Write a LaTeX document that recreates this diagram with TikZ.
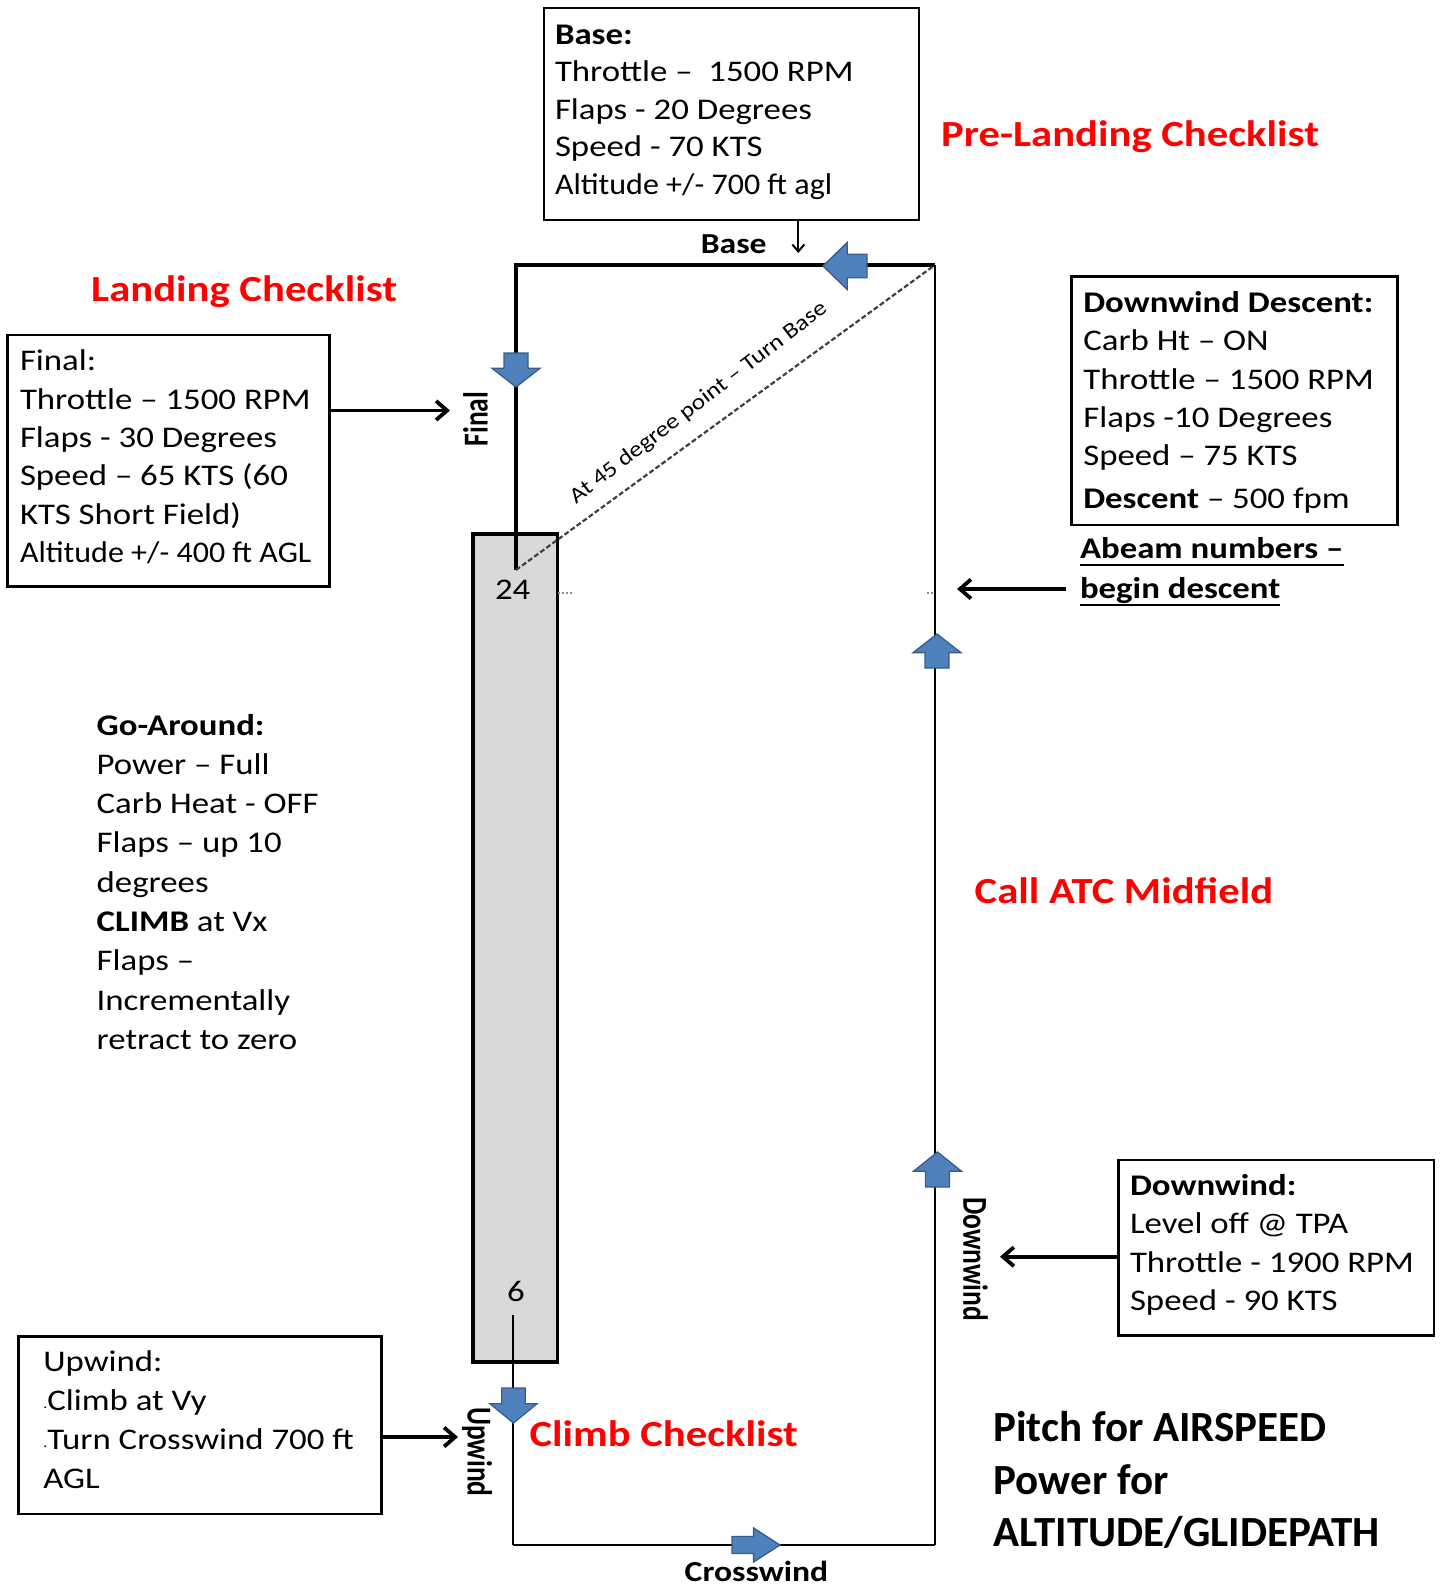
\documentclass[tikz,border=0pt]{standalone}
\usepackage{fontspec}
\setmainfont{Carlito}[FakeStretch=1.16]
\newfontfamily\plainfont{Carlito}
\usetikzlibrary{arrows.meta}
\definecolor{arrowblue}{HTML}{4F81BD}
\definecolor{arrowedge}{HTML}{385D8A}
\definecolor{runwaygray}{HTML}{D9D9D9}
\definecolor{titlered}{HTML}{FF0000}
\newcommand{\bodyfont}{\fontsize{30}{38.4}\selectfont}
\newsavebox{\ulbox}
\newcommand{\myul}[1]{\sbox{\ulbox}{#1}\rlap{\rule[-8pt]{\wd\ulbox}{2.5pt}}\usebox{\ulbox}}
\newcommand{\tinydot}{\raisebox{2pt}{\fontsize{14}{14}\selectfont.}}
\newcommand{\narrow}[1]{\scalebox{0.92}[1]{#1}}
\tikzset{
  boxst/.style={draw=black, line width=2.6pt, anchor=north west, inner sep=0pt, outer sep=0pt},
  txt/.style={inner sep=0pt, outer sep=0pt, anchor=north west, align=left, font=\bodyfont},
  titletxt/.style={inner sep=0pt, anchor=base west, text=titlered, font=\fontsize{36.8}{44}\selectfont\bfseries},
  lbl/.style={inner sep=0pt, anchor=base, font=\fontsize{29}{35}\selectfont\bfseries},
  rotlbl/.style={inner sep=0pt, anchor=base, font=\fontsize{27.5}{33}\selectfont\bfseries\plainfont},
  conn/.style={line width=3.8pt, -{Straight Barb[length=11pt, width=19pt]}},
  thinconn/.style={line width=2pt, -{Straight Barb[length=7pt, width=12pt]}},
  patthin/.style={line width=2.4pt},
  patthick/.style={line width=4.2pt, line join=miter},
  bluearr/.style={fill=arrowblue, draw=arrowedge, line width=1.3pt, line join=miter},
  pics/barrow/.style 2 args={code={
    \path[bluearr] ({-0.5*#1},{0.25*#2}) -- ({-0.05*#1},{0.25*#2}) -- ({-0.05*#1},{0.5*#2})
      -- ({0.5*#1},0) -- ({-0.05*#1},{-0.5*#2}) -- ({-0.05*#1},{-0.25*#2})
      -- ({-0.5*#1},{-0.25*#2}) -- cycle;
  }}
}
\begin{document}
\begin{tikzpicture}[x=1pt, y=-1pt]
\useasboundingbox (0,0) rectangle (1441,1590);
\fill[white] (0,0) rectangle (1441,1590);

% runway
\node[draw=black, line width=3.8pt, fill=runwaygray, anchor=north west, inner sep=0pt,
      minimum width=84.5pt, minimum height=828pt] (runway) at (471,532) {};
\node[anchor=base, inner sep=0pt, font=\bodyfont] (n24) at (512.7,599.3) {24};
\node[anchor=base, inner sep=0pt, font=\bodyfont] (n6) at (516,1301.7) {6};

% pattern corners
\coordinate (fe) at (516,570);
\coordinate (tl) at (516,265);
\coordinate (tr) at (935,265);
\coordinate (br) at (935,1545);
\coordinate (bl) at (513,1545);
\coordinate (ue) at (513,1315);

\draw[patthick] (fe) -- (tl) -- (tr);
\draw[patthin] (tr) -- (br);
\draw[patthin] (bl) -- (br);
\draw[patthin] (ue) -- (bl);
\draw[black!75, line width=2.2pt, dash pattern=on 5pt off 2.5pt] (fe) -- (tr);
\draw[black!45, line width=1.6pt, dash pattern=on 2pt off 2pt] (558,593) -- (572,593);
\draw[black!45, line width=1.6pt, dash pattern=on 2pt off 2pt] (927,593) -- (933,593);

\node[inner sep=0pt, rotate=37.5, font=\fontsize{22}{26}\selectfont] (diag) at (698.7,403) {At 45 degree point – Turn Base};

% blue block arrows
\pic[rotate=180] at (845,266) {barrow={44}{47}};
\pic[rotate=-90] at (516,370) {barrow={34}{48}};
\pic[rotate=90] at (937,651) {barrow={34}{48}};
\pic[rotate=90] at (937.5,1169.5) {barrow={35}{48}};
\pic[rotate=-90] at (513.5,1405.5) {barrow={35}{47}};
\pic at (756,1545) {barrow={48}{34}};

% leg labels
\node[lbl] (baselbl) at (733.7,253.3) {Base};
\node[lbl] (crosslbl) at (756.5,1581.7) {Crosswind};
\node[rotlbl, rotate=90] (finallbl) at (487.5,419) {\scalebox{1}[1.27]{Final}};
\node[rotlbl, rotate=-90] (upwindlbl) at (467.5,1452) {\scalebox{1}[1.27]{Upwind}};
\node[rotlbl, rotate=-90] (downwindlbl) at (963.3,1259) {\scalebox{1}[1.27]{Downwind}};

% boxes
\node[boxst, minimum width=375pt, minimum height=212pt] (bbox) at (544,8) {};
\node[txt, font=\fontsize{30}{37.6}\selectfont] (btext) at (555,17.7) {\strut\textbf{Base:}\\Throttle –~ 1500 RPM\\Flaps - 20 Degrees\\Speed - 70 KTS\\\narrow{Altitude +/- 700 ft agl}};

\node[boxst, minimum width=322pt, minimum height=251.7pt] (fbox) at (7.3,335) {};
\node[txt] (ftext) at (20,343.8) {\strut Final:\\Throttle – 1500 RPM\\Flaps - 30 Degrees\\Speed – 65 KTS (60\\KTS Short Field)\\\narrow{Altitude +/- 400 ft AGL}};

\node[boxst, minimum width=325.7pt, minimum height=248.3pt] (ddbox) at (1071.7,276.7) {};
\node[txt] (ddtext) at (1083.3,285.4) {\strut\textbf{Downwind Descent:}\\Carb Ht – ON\\Throttle – 1500 RPM\\Flaps -10 Degrees\\Speed – 75 KTS\\[4.5pt]\textbf{Descent} – 500 fpm};

\node[txt, font=\bodyfont\bfseries] (abeam) at (1080,531.6) {\strut\myul{Abeam numbers –}\\[1.6pt]\myul{begin descent}};

\node[txt, font=\fontsize{30}{39.3}\selectfont] (gotext) at (96.7,707.5) {\strut\textbf{Go-Around:}\\Power – Full\\Carb Heat - OFF\\Flaps – up 10\\degrees\\\textbf{CLIMB} at Vx\\Flaps –\\Incrementally\\retract to zero};

\node[boxst, minimum width=315.7pt, minimum height=175.6pt] (dbox) at (1118.3,1160) {};
\node[txt] (dtext) at (1130,1168.4) {\strut\textbf{Downwind:}\\Level off @ TPA\\Throttle - 1900 RPM\\Speed - 90 KTS};

\node[boxst, minimum width=363.4pt, minimum height=177.3pt] (ubox) at (18.3,1336.7) {};
\node[txt, font=\fontsize{30}{38.9}\selectfont] (utext) at (43.3,1344.5) {\strut Upwind:\\\tinydot Climb at Vy\\\tinydot Turn Crosswind 700 ft\\AGL};

% titles
\node[titletxt] (prelanding) at (941,146.5) {Pre-Landing Checklist};
\node[titletxt] (landing) at (91,301) {Landing Checklist};
\node[titletxt] (callatc) at (974.5,903) {Call ATC Midfield};
\node[titletxt] (climb) at (529.3,1446) {Climb Checklist};

\node[inner sep=0pt, anchor=north west, align=left, font=\fontsize{43}{52.4}\selectfont\bfseries\plainfont] (pitch) at (993.3,1405) {\strut Pitch for AIRSPEED\\Power for\\ALTITUDE/GLIDEPATH};

% connectors
\coordinate (basetip) at (798.3,253);
\coordinate (finaltip) at (450,410.5);
\coordinate (abeamtail) at (1066,589);
\coordinate (abeamtip) at (957,589);
\coordinate (dwtip) at (1000,1256.7);
\coordinate (uptip) at (458,1437);
\draw[thinconn] (bbox.south -| basetip) -- (basetip);
\draw[conn] (fbox.east |- finaltip) -- (finaltip);
\draw[conn] (abeamtail) -- (abeamtip);
\draw[conn] (dbox.west |- dwtip) -- (dwtip);
\draw[conn] (ubox.east |- uptip) -- (uptip);
\end{tikzpicture}
\end{document}
